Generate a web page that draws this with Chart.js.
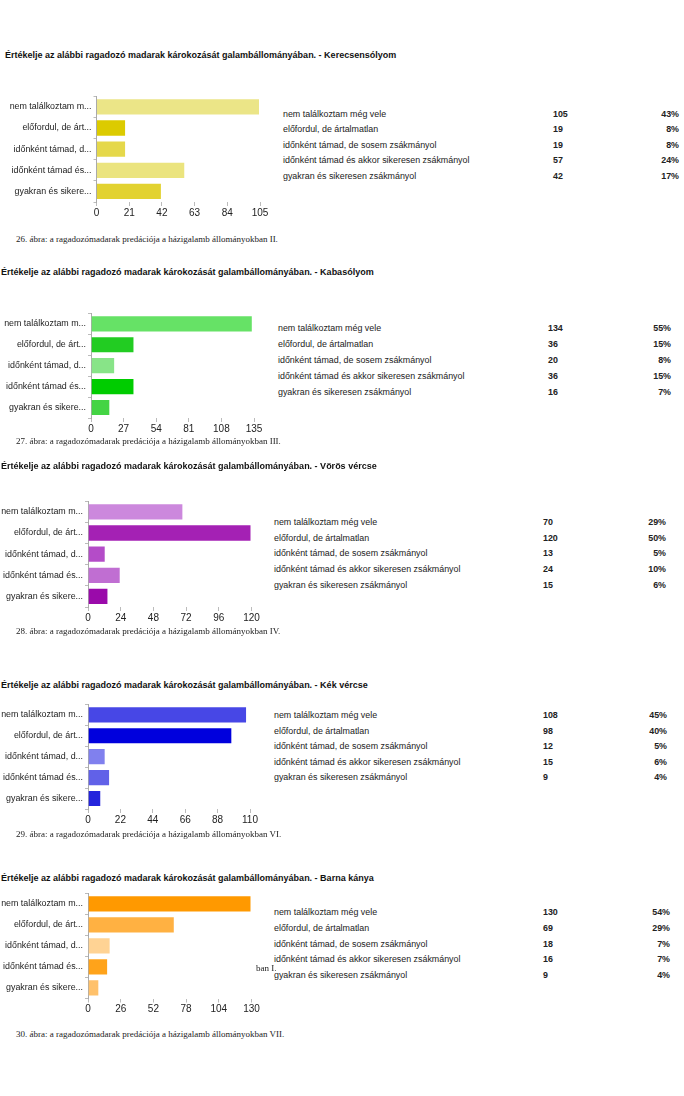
<!DOCTYPE html>
<html>
<head>
<meta charset="utf-8">
<script src="https://cdn.jsdelivr.net/npm/chart.js@4"></script>
<style>
body{margin:0;background:#fff;width:684px;height:1096px;position:relative;overflow:hidden;font-family:"Liberation Sans",Arial,sans-serif;color:#111}
.t{position:absolute;white-space:nowrap;line-height:12px;height:12px}
.title{font-weight:bold;font-size:9px;color:#111}
.cell{font-size:8.9px;color:#222}
.num{font-weight:bold}
.cap{font-family:"Liberation Serif","Times New Roman",serif;font-size:9px;color:#222}
canvas{position:absolute;left:0}
</style>
</head>
<body>
<script>
// answer options (axis labels are cut like in the survey export)
const shortLabels = ['nem találkoztam m...', 'előfordul, de árt...', 'időnként támad, d...', 'időnként támad és...', 'gyakran és sikere...'];
const fullLabels = ['nem találkoztam még vele', 'előfordul, de ártalmatlan', 'időnként támad, de sosem zsákmányol', 'időnként támad és akkor sikeresen zsákmányol', 'gyakran és sikeresen zsákmányol'];

const kerecsensolyomValues = [105, 19, 19, 57, 42];
const kerecsensolyomPct = ['43%', '8%', '8%', '24%', '17%'];
const kabasolyomValues = [134, 36, 20, 36, 16];
const kabasolyomPct = ['55%', '15%', '8%', '15%', '7%'];
const vorosVercseValues = [70, 120, 13, 24, 15];
const vorosVercsePct = ['29%', '50%', '5%', '10%', '6%'];
const kekVercseValues = [108, 98, 12, 15, 9];
const kekVercsePct = ['45%', '40%', '5%', '6%', '4%'];
const barnaKanyaValues = [130, 69, 18, 16, 9];
const barnaKanyaPct = ['54%', '29%', '7%', '7%', '4%'];

const axisMax = [105, 135, 120, 110, 130];
const birds = ['Kerecsensólyom', 'Kabasólyom', 'Vörös vércse', 'Kék vércse', 'Barna kánya'];
const captions = [
    '26. ábra: a ragadozómadarak predációja a házigalamb állományokban II.',
    '27. ábra: a ragadozómadarak predációja a házigalamb állományokban III.',
    '28. ábra: a ragadozómadarak predációja a házigalamb állományokban IV.',
    '29. ábra: a ragadozómadarak predációja a házigalamb állományokban VI.',
    '30. ábra: a ragadozómadarak predációja a házigalamb állományokban VII.'
];

const seriesValues = [kerecsensolyomValues, kabasolyomValues, vorosVercseValues, kekVercseValues, barnaKanyaValues];
const seriesPct = [kerecsensolyomPct, kabasolyomPct, vorosVercsePct, kekVercsePct, barnaKanyaPct];

const palettes = [
    ['#ebe587', '#dccb00', '#e5d84a', '#ebe47e', '#e2d230'],
    ['#66e266', '#22cc22', '#88e488', '#00cc00', '#44d444'],
    ['#cc88dd', '#a421b4', '#b44cc8', '#c06ed2', '#9a0aaa'],
    ['#4747e6', '#0000dd', '#8080ee', '#6161e8', '#2424dc'],
    ['#ff9900', '#ffb142', '#ffd394', '#ffa31a', '#ffc16b']
];

// page layout of each block
const layouts = [
    {titleX: 5, titleY: 55, axisX: 96.5, rightX: 260, top: 89, bottom: 202, tableX: 283, countX: 553, pctR: 679, rowY: [113.5, 129, 144.5, 160, 175.5], capY: 239},
    {titleX: 1, titleY: 272, axisX: 91, rightX: 254, top: 306, bottom: 418, tableX: 278, countX: 548, pctR: 671, rowY: [328, 344, 360, 376, 392], capY: 440.5},
    {titleX: 1, titleY: 466, axisX: 88, rightX: 251.5, top: 494, bottom: 607, tableX: 274, countX: 543, pctR: 666, rowY: [522, 537.5, 553, 569, 585], capY: 631},
    {titleX: 1, titleY: 685, axisX: 88, rightX: 250, top: 697, bottom: 809, tableX: 274, countX: 543, pctR: 667, rowY: [715, 730.5, 746, 762, 777], capY: 833.5},
    {titleX: 1, titleY: 878, axisX: 88, rightX: 251.5, top: 885.5, bottom: 998, tableX: 274, countX: 543, pctR: 670, rowY: [912, 928, 944, 959, 975], capY: 1034}
];

Chart.defaults.font.family = '"Liberation Sans", Arial, sans-serif';

function text(str, x, y, cls, alignRight) {
    const d = document.createElement('div');
    d.className = 't ' + cls;
    d.textContent = str;
    d.style.top = (y - 6) + 'px';
    if (alignRight) {
        d.style.right = (684 - x) + 'px';
    } else {
        d.style.left = x + 'px';
    }
    document.body.appendChild(d);
}

birds.forEach((bird, i) => {
    const b = layouts[i];
    text('Értékelje az alábbi ragadozó madarak károkozását galambállományában. - ' + bird, b.titleX, b.titleY, 'title');

    const plotH = b.bottom - b.top;
    const w = Math.round(b.rightX + 16);
    const h = Math.round(plotH + 20);
    const c = document.createElement('canvas');
    c.width = w;
    c.height = h;
    c.style.top = b.top + 'px';
    document.body.appendChild(c);

    new Chart(c, {
        type: 'bar',
        data: {
            labels: shortLabels,
            datasets: [{
                data: seriesValues[i],
                backgroundColor: palettes[i],
                borderColor: 'rgba(255,255,255,0.35)',
                borderWidth: 1,
                categoryPercentage: 1,
                barPercentage: 0.82
            }]
        },
        options: {
            indexAxis: 'y',
            responsive: false,
            animation: false,
            devicePixelRatio: 1,
            layout: {padding: {left: 0, right: w - b.rightX, top: 0, bottom: 0}},
            plugins: {legend: {display: false}, tooltip: {enabled: false}},
            scales: {
                x: {
                    min: 0,
                    max: axisMax[i],
                    ticks: {stepSize: axisMax[i] / 5, color: '#222', font: {size: 10}, padding: 1},
                    grid: {drawOnChartArea: false, drawTicks: true, tickLength: 4, color: '#bbb'},
                    border: {display: false},
                    afterFit(s) { s.height = h - plotH; }
                },
                y: {
                    ticks: {color: '#222', font: {size: 8.9}, padding: 2},
                    grid: {drawOnChartArea: false, tickLength: 3, color: '#bbb'},
                    border: {color: '#aaa'},
                    afterFit(s) { s.width = b.axisX; }
                }
            }
        }
    });

    fullLabels.forEach((lab, r) => {
        text(lab, b.tableX, b.rowY[r], 'cell');
        text(String(seriesValues[i][r]), b.countX, b.rowY[r], 'cell num');
        text(seriesPct[i][r], b.pctR, b.rowY[r], 'cell num', true);
    });

    text(captions[i], 16, b.capY, 'cap');
});

// leftover fragment of a caption on the scanned page
text('ban I.', 256, 968, 'cap');
</script>
</body>
</html>
